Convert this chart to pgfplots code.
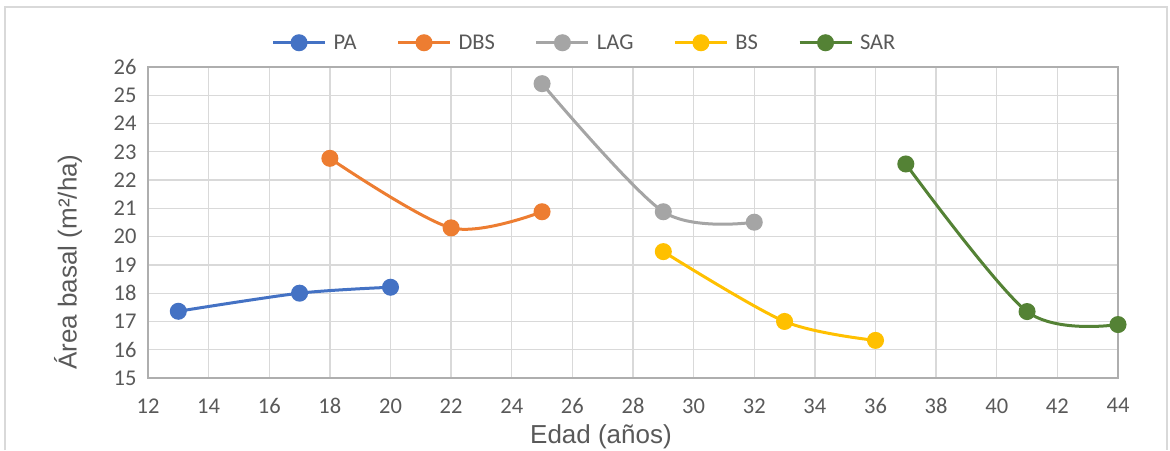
\documentclass[border=0pt]{standalone}
\usepackage{fontspec}
\setmainfont{Carlito}
\newfontfamily\labfont{Liberation Sans}
\usepackage{pgfplots}
\pgfplotsset{compat=1.18}
\definecolor{cPA}{HTML}{4472C4}
\definecolor{cDBS}{HTML}{ED7D31}
\definecolor{cLAG}{HTML}{A5A5A5}
\definecolor{cBS}{HTML}{FFC000}
\definecolor{cSAR}{HTML}{548235}
\definecolor{gridc}{HTML}{D9D9D9}
\definecolor{txt}{HTML}{595959}
\begin{document}
\begin{tikzpicture}[x=1pt,y=1pt]
\path[use as bounding box] (-148,-72) rectangle (1022,378);
\draw[gridc, line width=1.3pt] (-143,-72) -- (-143,371) -- (1019,371) -- (1019,-72);
\begin{axis}[
  at={(0,0)}, anchor=south west,
  scale only axis, width=970pt, height=311pt,
  xmin=12, xmax=44, ymin=15, ymax=26,
  xtick={12,14,...,44}, ytick={15,16,...,26},
  grid=major,
  major grid style={gridc, line width=1.3pt},
  axis line style={gridc!80!black, line width=1.3pt},
  tick style={draw=none},
  ticklabel style={font=\fontsize{22.5}{22.5}\selectfont, text=txt},
  /pgf/number format/assume math mode=true,
  xticklabel style={yshift=-17pt},
  yticklabel style={xshift=-8pt},
  xlabel={Edad (años)}, ylabel={Área basal (m²/ha)},
  label style={font=\labfont\fontsize{26}{26}\selectfont, text=txt},
  xlabel style={at={(axis description cs:0.467,0)}, anchor=center, yshift=-59pt},
  ylabel style={at={(axis description cs:0,0.373)}, anchor=center, rotate=0, yshift=80pt},
  every axis plot/.append style={line width=3pt, smooth, mark=*, mark size=7pt, mark options={solid}},
  legend style={at={(0.45,1.0)}, anchor=south, yshift=12pt, draw=none, font=\fontsize{22.5}{22.5}\selectfont, text=txt, legend columns=5, /tikz/every even column/.append style={column sep=38pt}, /tikz/every odd column/.append style={column sep=5pt}},
  legend image code/.code={\draw[#1, line width=3pt] (0pt,0pt) -- (52pt,0pt); \fill[#1] (26pt,0pt) circle (7pt);},
  clip=false,
]
\addplot[cPA] coordinates {(13,17.36) (17,18.0) (20,18.21)};
\addlegendentry{PA}
\addplot[cDBS] coordinates {(18,22.77) (22,20.31) (25,20.88)};
\addlegendentry{DBS}
\addplot[cLAG] coordinates {(25,25.41) (29,20.88) (32,20.51)};
\addlegendentry{LAG}
\addplot[cBS] coordinates {(29,19.47) (33,17.0) (36,16.33)};
\addlegendentry{BS}
\addplot[cSAR] coordinates {(37,22.57) (41,17.35) (44,16.89)};
\addlegendentry{SAR}
\end{axis}
\end{tikzpicture}
\end{document}
